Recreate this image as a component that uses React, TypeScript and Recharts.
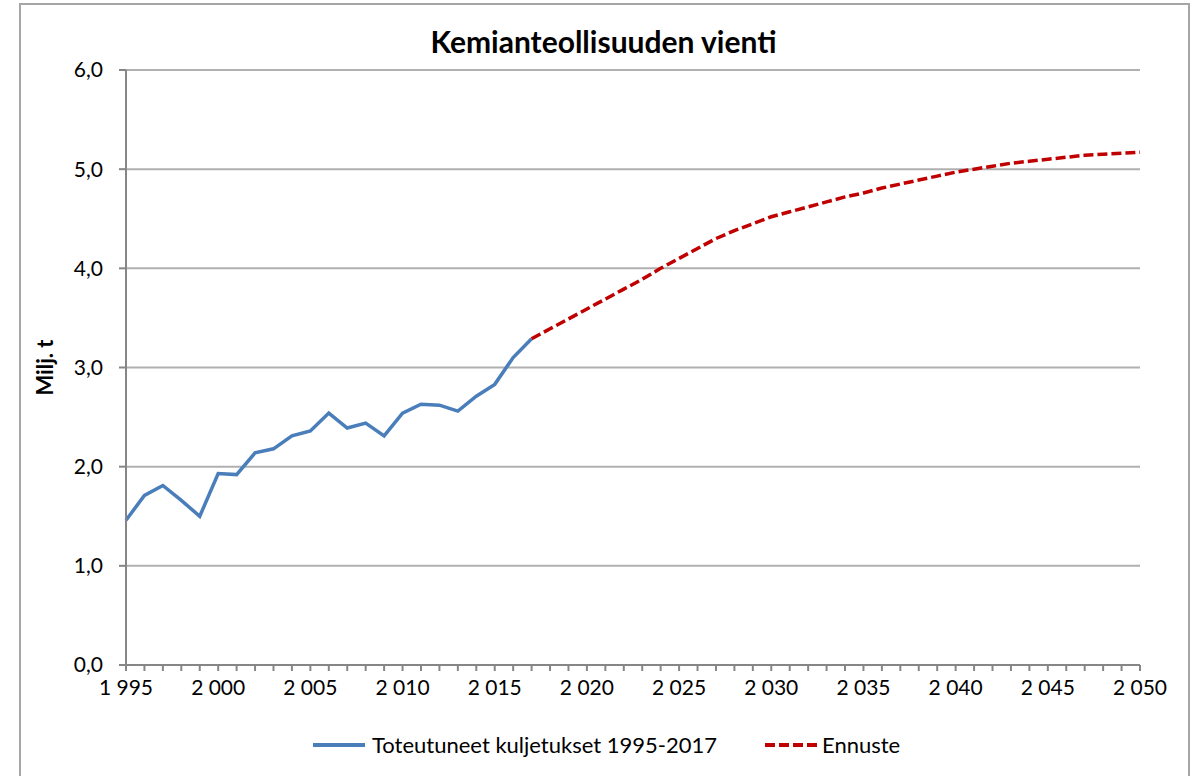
import React from "react";
import { LineChart, Line, XAxis, YAxis, CartesianGrid } from "recharts";

// Toteutuneet kuljetukset 1995-2017 (milj. t)
const actualYears = [
  1995, 1996, 1997, 1998, 1999, 2000, 2001, 2002, 2003, 2004, 2005, 2006,
  2007, 2008, 2009, 2010, 2011, 2012, 2013, 2014, 2015, 2016, 2017,
];
const actualValues = [
  1.46, 1.71, 1.81, 1.66, 1.5, 1.93, 1.92, 2.14, 2.18, 2.31, 2.36, 2.54,
  2.39, 2.44, 2.31, 2.54, 2.63, 2.62, 2.56, 2.71, 2.83, 3.1, 3.29,
];

// Ennuste 2017-2050 (milj. t)
const forecastYears = [
  2017, 2018, 2019, 2020, 2021, 2022, 2023, 2024, 2025, 2026, 2027, 2028,
  2029, 2030, 2031, 2032, 2033, 2034, 2035, 2036, 2037, 2038, 2039, 2040,
  2041, 2042, 2043, 2044, 2045, 2046, 2047, 2048, 2049, 2050,
];
const forecastValues = [
  3.29, 3.39, 3.49, 3.59, 3.69, 3.79, 3.89, 4.0, 4.1, 4.2, 4.3, 4.38,
  4.45, 4.52, 4.57, 4.62, 4.67, 4.72, 4.76, 4.81, 4.85, 4.89, 4.93, 4.97,
  5.0, 5.03, 5.06, 5.08, 5.1, 5.12, 5.14, 5.15, 5.16, 5.17,
];

const yTicks = [0, 1, 2, 3, 4, 5, 6];

const FONT = "Lato, 'Open Sans', sans-serif";
const AXIS = "#868686";
const GRID = "#b0b0b0";
const BLUE = "#4a7ebb";
const RED = "#c00000";

const allYears: number[] = [];
for (let y = 1995; y <= 2050; y++) allYears.push(y);

const data = allYears.map((year) => {
  const ai = actualYears.indexOf(year);
  const fi = forecastYears.indexOf(year);
  return {
    year,
    actual: ai >= 0 ? actualValues[ai] : null,
    forecast: fi >= 0 ? forecastValues[fi] : null,
  };
});

const formatYear = (y: number) => {
  const s = String(y);
  return s.slice(0, 1) + " " + s.slice(1);
};

function YearTick(props: any) {
  const { x, y, payload } = props;
  if (payload.value % 5 !== 0) return <g />;
  return (
    <text
      x={x}
      y={y + 22}
      textAnchor="middle"
      fontFamily={FONT}
      fontSize={21}
      fill="#000"
    >
      {formatYear(payload.value)}
    </text>
  );
}

export default function App() {
  return (
    <div
      style={{
        position: "absolute",
        left: 0,
        top: 0,
        width: 1197,
        height: 776,
        background: "#fff",
        overflow: "hidden",
        fontFamily: FONT,
      }}
    >
      <div
        style={{
          position: "absolute",
          left: 19,
          top: 3,
          width: 1167,
          height: 800,
          border: `2px solid #a6a6a6`,
        }}
      />
      <div
        style={{
          position: "absolute",
          left: 19,
          width: 1169,
          top: 23,
          textAlign: "center",
          fontSize: 30,
          fontWeight: 700,
          color: "#000",
        }}
      >
        Kemianteollisuuden vienti
      </div>

      <LineChart
        width={1197}
        height={776}
        data={data}
        margin={{ top: 70, right: 57, left: 0, bottom: 71 }}
        style={{ position: "absolute", left: 0, top: 0 }}
      >
        <CartesianGrid
          vertical={false}
          stroke={GRID}
          strokeWidth={2}
          horizontalValues={yTicks}
        />
        <XAxis
          type="number"
          dataKey="year"
          domain={[1995, 2050]}
          ticks={allYears}
          interval={0}
          height={40}
          stroke={AXIS}
          strokeWidth={2}
          tickSize={6}
          tick={<YearTick />}
          allowDecimals={false}
        />
        <YAxis
          type="number"
          domain={[0, 6]}
          ticks={yTicks}
          width={126}
          stroke={AXIS}
          strokeWidth={2}
          tickSize={7}
          tickMargin={16}
          tick={{ fill: "#000", fontSize: 21, fontFamily: FONT }}
          tickFormatter={(v: number) => v.toFixed(1).replace(".", ",")}
          label={{
            value: "Milj. t",
            angle: -90,
            position: "insideLeft",
            offset: 45,
            style: {
              fontWeight: 700,
              fontSize: 22,
              fill: "#000",
              fontFamily: FONT,
              textAnchor: "middle",
            },
          }}
        />
        <Line
          type="linear"
          dataKey="actual"
          stroke={BLUE}
          strokeWidth={3.5}
          dot={false}
          activeDot={false}
          isAnimationActive={false}
        />
        <Line
          type="linear"
          dataKey="forecast"
          stroke={RED}
          strokeWidth={3.5}
          strokeDasharray="10 4"
          dot={false}
          activeDot={false}
          isAnimationActive={false}
        />
      </LineChart>

      <div
        style={{
          position: "absolute",
          left: 313,
          top: 731,
          display: "flex",
          alignItems: "center",
          fontSize: 22,
          color: "#000",
          whiteSpace: "nowrap",
        }}
      >
        <svg width={52} height={10} style={{ marginRight: 7 }}>
          <line x1={0} y1={5} x2={52} y2={5} stroke={BLUE} strokeWidth={4} />
        </svg>
        <span>Toteutuneet kuljetukset 1995-2017</span>
        <svg width={52} height={10} style={{ marginLeft: 48, marginRight: 5 }}>
          <line
            x1={0}
            y1={5}
            x2={52}
            y2={5}
            stroke={RED}
            strokeWidth={4}
            strokeDasharray="10 4"
          />
        </svg>
        <span>Ennuste</span>
      </div>
    </div>
  );
}
